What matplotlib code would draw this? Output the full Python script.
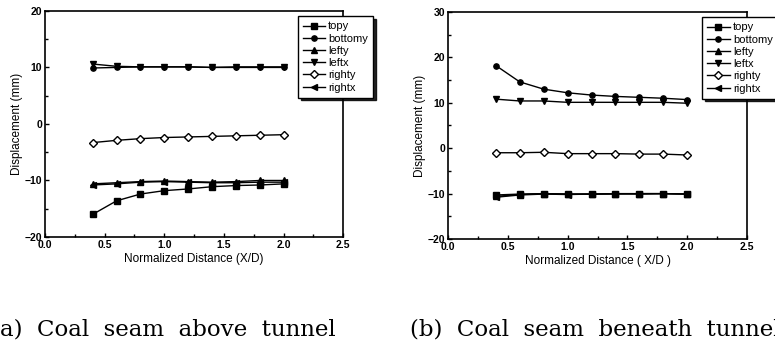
import matplotlib
matplotlib.use("Agg")
import matplotlib.pyplot as plt
from matplotlib.ticker import MultipleLocator

# normalized distance X/D
x_nd = [0.4, 0.6, 0.8, 1.0, 1.2, 1.4, 1.6, 1.8, 2.0]

series_names = ["topy", "bottomy", "lefty", "leftx", "righty", "rightx"]
series_markers = ["s", "o", "^", "v", "D", "<"]

# (a) coal seam above tunnel, displacement (mm)
a_topy = [-16.0, -13.6, -12.4, -11.8, -11.5, -11.1, -10.9, -10.8, -10.6]
a_bottomy = [9.9, 10.0, 10.1, 10.1, 10.1, 10.0, 10.1, 10.1, 10.1]
a_lefty = [-10.6, -10.4, -10.2, -10.1, -10.2, -10.3, -10.2, -10.0, -10.0]
a_leftx = [10.6, 10.2, 10.1, 10.1, 10.1, 10.0, 10.0, 10.0, 10.0]
a_righty = [-3.3, -2.9, -2.6, -2.4, -2.3, -2.2, -2.1, -2.0, -1.9]
a_rightx = [-10.8, -10.6, -10.3, -10.2, -10.3, -10.4, -10.4, -10.3, -10.3]

# (b) coal seam beneath tunnel, displacement (mm)
b_topy = [-10.3, -10.1, -10.0, -10.1, -10.1, -10.0, -10.1, -10.0, -10.1]
b_bottomy = [18.2, 14.6, 13.0, 12.2, 11.7, 11.4, 11.2, 11.0, 10.7]
b_lefty = [-10.6, -10.2, -10.0, -10.1, -10.1, -10.0, -10.0, -10.0, -10.1]
b_leftx = [10.8, 10.4, 10.4, 10.1, 10.1, 10.1, 10.1, 10.1, 9.9]
b_righty = [-1.0, -1.0, -0.9, -1.2, -1.2, -1.2, -1.3, -1.3, -1.5]
b_rightx = [-10.8, -10.3, -10.1, -10.2, -10.1, -10.1, -10.0, -10.0, -10.1]

plt.rcParams["font.family"] = ["Liberation Sans", "DejaVu Sans"]

fig = plt.figure(figsize=(7.75, 3.41), dpi=100)


def draw_panel(rect, data, ylim, xlabel, leg_rect):
    ax = fig.add_axes(rect)
    for name, mk, ys in zip(series_names, series_markers, data):
        face = "white" if mk == "D" else "black"
        ms = 3.8 if mk in ("D", "o") else 4.2
        ax.plot(x_nd, ys, color="black", lw=1.0, marker=mk, ms=ms,
                mfc=face, mec="black", mew=1.0, label=name)
    ax.set_xlim(0.0, 2.5)
    ax.set_ylim(*ylim)
    ax.xaxis.set_major_locator(MultipleLocator(0.5))
    ax.xaxis.set_minor_locator(MultipleLocator(0.25))
    ax.yaxis.set_major_locator(MultipleLocator(10))
    ax.yaxis.set_minor_locator(MultipleLocator(5))
    ax.xaxis.set_major_formatter(plt.FuncFormatter(lambda v, p: f"{v:.1f}"))
    ax.tick_params(which="both", direction="in", labelsize=7.5, width=1,
                   top=False, right=False, pad=2)
    ax.tick_params(which="major", length=3)
    ax.tick_params(which="minor", length=2)
    for lbl in ax.get_xticklabels() + ax.get_yticklabels():
        lbl.set_fontweight("bold")
    for sp in ax.spines.values():
        sp.set_linewidth(1.2)
    ax.set_xlabel(xlabel, fontsize=8.5, labelpad=2)
    ax.set_ylabel("Displacement (mm)", fontsize=8.5, labelpad=1)
    leg = ax.legend(loc="upper left", bbox_to_anchor=leg_rect,
                    bbox_transform=fig.transFigure, fontsize=8, numpoints=1,
                    handlelength=2.0, handletextpad=0.3, labelspacing=0.2,
                    borderpad=0.45, fancybox=False,
                    shadow={"color": "black", "alpha": 0.85},
                    edgecolor="black", framealpha=1)
    leg.get_frame().set_linewidth(1.0)
    return ax


draw_panel([0.058, 0.305, 0.385, 0.663],
           [a_topy, a_bottomy, a_lefty, a_leftx, a_righty, a_rightx],
           (-20, 20), "Normalized Distance (X/D)", (0.377, 0.968))
draw_panel([0.578, 0.299, 0.386, 0.666],
           [b_topy, b_bottomy, b_lefty, b_leftx, b_righty, b_rightx],
           (-20, 30), "Normalized Distance ( X/D )", (0.899, 0.965))

# the reference crops the end of caption (b) at the right edge
cap_font = ["DejaVu Serif", "Liberation Serif"]
fig.text(0.0, 0.016, "a)  Coal  seam  above  tunnel", fontsize=16.5,
         family=cap_font, va="baseline", ha="left")
fig.text(0.529, 0.016, "(b)  Coal  seam  beneath  tunnel", fontsize=16.5,
         family=cap_font, va="baseline", ha="left")

fig.savefig("out.png", dpi=100, facecolor="white")
